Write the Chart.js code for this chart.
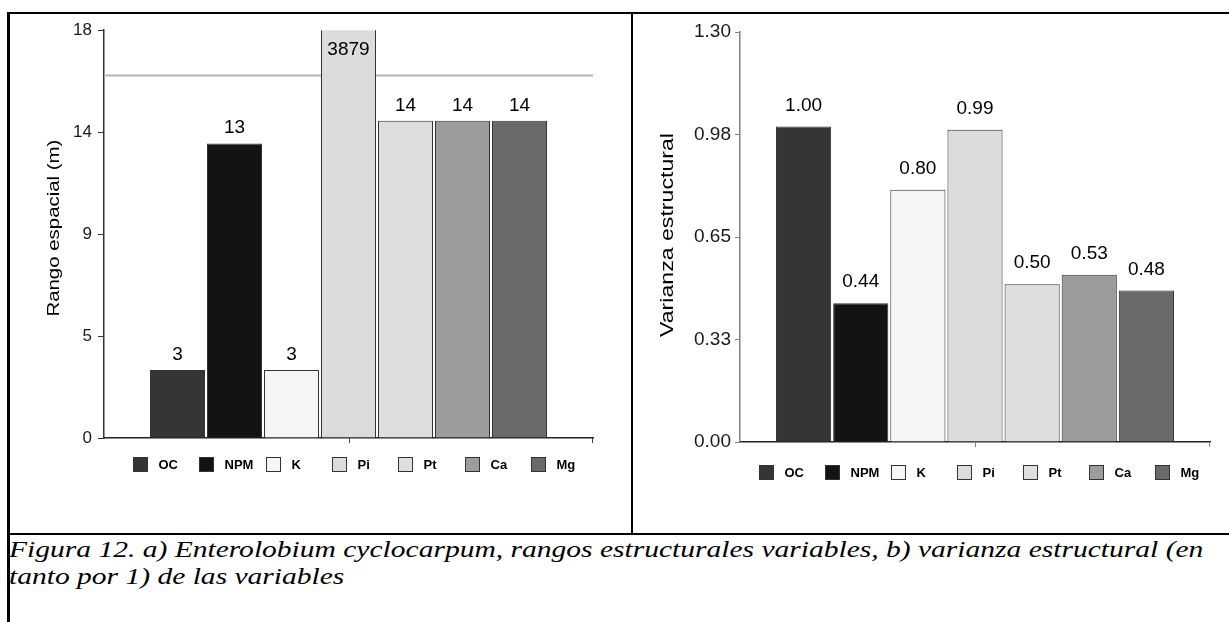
<!DOCTYPE html>
<html>
<head>
<meta charset="utf-8">
<script src="https://cdn.jsdelivr.net/npm/chart.js@4.4.0/dist/chart.umd.min.js"></script>
<style>
html,body{margin:0;padding:0;background:#fff;}
#wrap{position:relative;width:1229px;height:622px;overflow:hidden;background:#fff;}
.line{position:absolute;background:#000;}
#c1box{position:absolute;left:10px;top:14px;width:621px;height:518px;}
#c2box{position:absolute;left:633px;top:14px;width:596px;height:518px;}
#caption{position:absolute;left:9px;top:536px;font-family:"Liberation Serif","Times New Roman",serif;font-style:italic;font-size:24px;line-height:27px;color:#000;white-space:nowrap;transform:scaleX(1.23);transform-origin:0 0;}
</style>
</head>
<body>
<div id="wrap">
  <div id="c1box"><canvas id="c1"></canvas></div>
  <div id="c2box"><canvas id="c2"></canvas></div>
  <div class="line" style="left:7px;top:12px;width:1222px;height:2px"></div>
  <div class="line" style="left:7px;top:12px;width:3px;height:610px"></div>
  <div class="line" style="left:631px;top:12px;width:2px;height:523px"></div>
  <div class="line" style="left:7px;top:533px;width:1222px;height:2px"></div>
  <div id="caption">Figura 12. a) Enterolobium cyclocarpum, rangos estructurales variables, b) varianza estructural (en<br>tanto por 1) de las variables</div>
</div>
<script>
// ---------- data ----------
const categories = ['OC', 'NPM', 'K', 'Pi', 'Pt', 'Ca', 'Mg'];
const rangoEspacial = [3, 13, 3, 3879, 14, 14, 14];
const varianzaEstructural = [1.00, 0.44, 0.80, 0.99, 0.50, 0.53, 0.48];
const rangoTickLabels = ['0', '5', '9', '14', '18'];
const varianzaTickLabels = ['0.00', '0.33', '0.65', '0.98', '1.30'];
const rangoMax = 18;
const varianzaMax = 1.3;
const rangoReference = 16;

// ---------- styles ----------
const barColors = ['#353535', '#131313', '#f5f5f5', '#dcdcdc', '#dedede', '#9c9c9c', '#6a6a6a'];
const FONT = '"Liberation Sans", Arial, sans-serif';

function buildDatasets(values, catPct) {
  return categories.map((c, i) => ({
    label: c,
    data: [values[i]],
    backgroundColor: barColors[i],
    borderColor: '#333333',
    borderWidth: 1,
    borderSkipped: 'bottom',
    barPercentage: 0.965,
    categoryPercentage: catPct
  }));
}

function makePlugins(cfg) {
  return [
    {
      id: 'refLine',
      beforeDatasetsDraw(chart) {
        if (cfg.refValue == null) return;
        const ctx = chart.ctx, a = chart.chartArea;
        const y = chart.scales.y.getPixelForValue(cfg.refValue);
        ctx.save();
        ctx.strokeStyle = '#b4b4b4';
        ctx.lineWidth = 2;
        ctx.beginPath(); ctx.moveTo(a.left, y); ctx.lineTo(a.right, y); ctx.stroke();
        ctx.restore();
      }
    },
    {
      id: 'valueLabels',
      afterDatasetsDraw(chart) {
        const ctx = chart.ctx;
        ctx.save();
        ctx.font = cfg.labelSize + 'px ' + FONT;
        ctx.fillStyle = '#000';
        ctx.textAlign = 'center';
        ctx.textBaseline = 'alphabetic';
        chart.data.datasets.forEach((ds, i) => {
          const el = chart.getDatasetMeta(i).data[0];
          const v = ds.data[0];
          const txt = cfg.format(v);
          if (v > chart.scales.y.max) {
            ctx.fillText(txt, el.x, chart.chartArea.top + cfg.insideOffset);
          } else {
            ctx.fillText(txt, el.x, el.y - cfg.gap);
          }
        });
        ctx.restore();
      }
    },
    {
      id: 'extras',
      afterDraw(chart) {
        const ctx = chart.ctx, a = chart.chartArea;
        ctx.save();
        // x-axis tick marks (centre of group and right end)
        ctx.strokeStyle = cfg.xTickColor;
        ctx.lineWidth = 1;
        const cx = Math.round(chart.scales.x.getPixelForValue(0)) + 0.5;
        const rx = Math.round(a.right) - 0.5;
        ctx.beginPath();
        ctx.moveTo(cx, a.bottom); ctx.lineTo(cx, a.bottom + 5);
        ctx.moveTo(rx, a.bottom); ctx.lineTo(rx, a.bottom + 5);
        ctx.stroke();
        // legend
        ctx.font = 'bold 13px ' + FONT;
        ctx.textAlign = 'left';
        ctx.textBaseline = 'middle';
        chart.data.datasets.forEach((ds, i) => {
          const x = Math.round(a.left + cfg.legendStart + i * cfg.legendStep) + 0.5;
          const y = Math.round(a.bottom + cfg.legendOffset) + 0.5;
          ctx.fillStyle = ds.backgroundColor;
          ctx.fillRect(x, y, 14, 14);
          ctx.strokeStyle = '#333';
          ctx.strokeRect(x, y, 14, 14);
          ctx.fillStyle = '#000';
          ctx.fillText(ds.label, x + 25, y + 8);
        });
        // axis title (stretched to match original)
        ctx.font = cfg.titleSize + 'px ' + FONT;
        ctx.textAlign = 'center';
        ctx.textBaseline = 'middle';
        ctx.fillStyle = '#000';
        const w = ctx.measureText(cfg.title).width;
        const sx = cfg.titleLength / w;
        ctx.translate(cfg.titleX, (a.top + a.bottom) / 2 + cfg.titleShift);
        ctx.rotate(-Math.PI / 2);
        ctx.scale(sx, 1);
        ctx.fillText(cfg.title, 0, 0);
        ctx.restore();
      }
    }
  ];
}

function makeChart(id, values, o) {
  return new Chart(document.getElementById(id), {
    type: 'bar',
    data: { labels: [''], datasets: buildDatasets(values, o.catPct) },
    options: {
      responsive: true,
      maintainAspectRatio: false,
      animation: false,
      layout: { padding: { left: 0, right: o.padRight, top: o.padTop, bottom: 0 } },
      plugins: { legend: { display: false }, tooltip: { enabled: false } },
      scales: {
        x: {
          grid: { display: false },
          ticks: { display: false },
          border: { display: true, color: '#222', width: 1.5 },
          afterFit(s) { s.height = o.xHeight; }
        },
        y: {
          min: 0,
          max: o.max,
          ticks: {
            stepSize: o.max / 4,
            callback: (v, i) => o.tickLabels[i],
            font: { family: FONT, size: o.tickSize },
            color: '#1a1a1a',
            padding: o.tickPad
          },
          grid: { drawOnChartArea: false, tickLength: o.tickLen, color: o.axisColor },
          border: { display: true, color: o.axisColor, width: 1.5 },
          afterFit(s) { s.width = o.yWidth; }
        }
      }
    },
    plugins: makePlugins(o.plugin)
  });
}

makeChart('c1', rangoEspacial, {
  catPct: 0.816, padRight: 38, padTop: 16, xHeight: 94, yWidth: 94,
  max: rangoMax, tickLabels: rangoTickLabels, tickSize: 17, tickPad: 6, tickLen: 6, axisColor: '#333',
  plugin: {
    refValue: rangoReference,
    labelSize: 19, gap: 10, insideOffset: 25,
    format: v => String(Math.round(v)),
    xTickColor: '#444',
    legendStart: 29, legendStep: 66.3, legendOffset: 19,
    title: 'Rango espacial (m)', titleSize: 17, titleLength: 177, titleX: 44, titleShift: -6
  }
});

makeChart('c2', varianzaEstructural, {
  catPct: 0.851, padRight: 19, padTop: 18, xHeight: 90, yWidth: 107,
  max: varianzaMax, tickLabels: varianzaTickLabels, tickSize: 19, tickPad: 4, tickLen: 5, axisColor: '#808080',
  plugin: {
    refValue: null,
    labelSize: 19, gap: 16, insideOffset: 25,
    format: v => v.toFixed(2),
    xTickColor: '#808080',
    legendStart: 19, legendStep: 66, legendOffset: 23,
    title: 'Varianza estructural', titleSize: 18, titleLength: 204, titleX: 35, titleShift: -2
  }
});
</script>
</body>
</html>
